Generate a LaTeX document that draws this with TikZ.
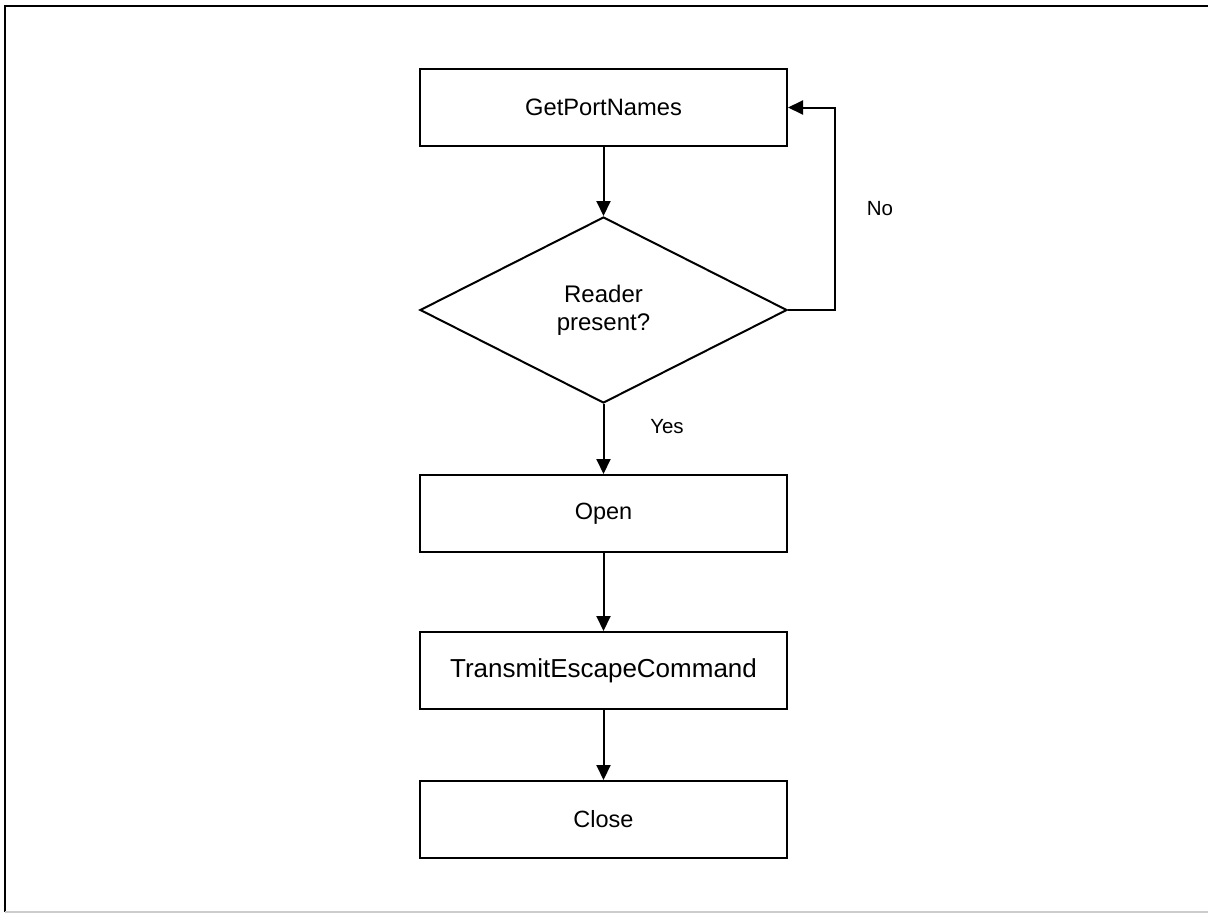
\documentclass[tikz,border=0pt]{standalone}
\usepackage{fontspec}
\setmainfont{Liberation Sans}
\usetikzlibrary{shapes.geometric,arrows.meta}

\begin{document}
    \begin{tikzpicture}[x=1pt, y=-1pt, line width=2pt,
        every node/.style = {inner sep=0pt, align=center},
        stepbox/.style = {shape=rectangle, draw, minimum width=367pt, minimum height=77pt,
                        font=\fontsize{23.5}{28}\selectfont},
        decision/.style = {shape=diamond, draw, minimum width=367pt, minimum height=186pt,
                        font=\fontsize{24}{28}\selectfont},
        answer/.style = {font=\fontsize{20.5}{24}\selectfont},
        flow/.style = {-{Triangle[length=15pt, width=14pt]}}]
        \useasboundingbox (0,0) rectangle (1208,913);
        % frame
        \draw[line width=2.5pt] (1208,6) -- (5,6) -- (5,912);
        \draw[black!20, line width=1.5pt] (5,912) -- (1208,912);
        % steps
        \node[stepbox, font=\fontsize{23.7}{28}\selectfont] (getnames) at (603.5,107.5) {GetPortNames};
        \node[decision] (present) at (603.5,310) {Reader\\present?};
        \node[stepbox] (open) at (603.5,513.5) {Open};
        \node[stepbox, font=\fontsize{26}{30}\selectfont] (transmit) at (603.5,670.5) {TransmitEscapeCommand};
        \node[stepbox] (close) at (603.5,819.5) {Close};
        \coordinate (loop) at (835,310);
        \node[answer] (no) at (880,209) {No};
        \node[answer] (yes) at (667,427) {Yes};
        % connectors
        \draw[flow] (getnames) -- (present);
        \draw[flow] (present) -- (open);
        \draw[flow] (open) -- (transmit);
        \draw[flow] (transmit) -- (close);
        \draw[flow] (present.east) -- (loop) |- (getnames.east);
    \end{tikzpicture}
\end{document}
